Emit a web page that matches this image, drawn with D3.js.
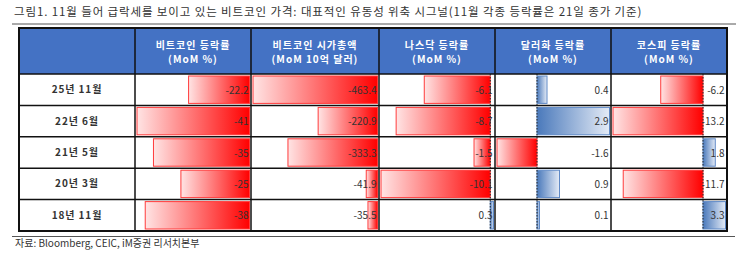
<!DOCTYPE html>
<html>
<head>
<meta charset="utf-8">
<script src="https://cdn.jsdelivr.net/npm/d3@7"></script>
<style>
  body { margin: 0; background: #fff; }
  text { font-family: "Noto Sans CJK KR", "Noto Sans", sans-serif; }
</style>
</head>
<body>
<script>
var width = 745, height = 257;

var titleText = "그림1.  11월 들어 급락세를 보이고 있는 비트코인 가격: 대표적인 유동성 위축 시그널(11월 각종 등락률은 21일 종가 기준)";
var sourceText = "자료: Bloomberg, CEIC, iM증권 리서치본부";

var periods = ["25년 11월", "22년 6월", "21년 5월", "20년 3월", "18년 11월"];
var headers = [
  ["비트코인 등락률", "(MoM %)"],
  ["비트코인 시가총액", "(MoM 10억 달러)"],
  ["나스닥 등락률", "(MoM %)"],
  ["달러화 등락률", "(MoM %)"],
  ["코스피 등락률", "(MoM %)"]
];
var btcChange = [-22.2, -41, -35, -25, -38];
var btcMcap = [-463.4, -220.9, -333.3, -41.9, -35.5];
var nasdaq = [-6.1, -8.7, -1.5, -10.1, 0.3];
var dollar = [0.4, 2.9, -1.6, 0.9, 0.1];
var kospi = [-6.2, -13.2, 1.8, -11.7, 3.3];

var series = [btcChange, btcMcap, nasdaq, dollar, kospi];

// table geometry
var colEdges = [19, 135, 251, 379, 495, 611, 727];
var headTop = 28, headBottom = 74, tableBottom = 231;

var svg = d3.select("body").append("svg")
    .attr("width", width)
    .attr("height", height);

var defs = svg.append("defs");
var red = defs.append("linearGradient").attr("id", "gRed");
red.append("stop").attr("offset", "0%").attr("stop-color", "#ffe4e4");
red.append("stop").attr("offset", "100%").attr("stop-color", "#ff0000");
var blue = defs.append("linearGradient").attr("id", "gBlue");
blue.append("stop").attr("offset", "0%").attr("stop-color", "#4a79bb");
blue.append("stop").attr("offset", "100%").attr("stop-color", "#e4ebf6");

// title
svg.append("text")
    .attr("x", 14).attr("y", 16)
    .attr("font-size", 11.5)
    .attr("fill", "#333")
    .attr("letter-spacing", 0.6)
    .attr("textLength", 628)
    .attr("lengthAdjust", "spacing")
    .text(titleText);
svg.append("line")
    .attr("x1", 12).attr("x2", 736).attr("y1", 24).attr("y2", 24)
    .attr("stroke", "#555").attr("stroke-width", 1);

// row scale
var y = d3.scaleBand().domain(periods).range([headBottom, tableBottom]);

// header band
svg.append("rect")
    .attr("x", colEdges[0]).attr("y", headTop)
    .attr("width", colEdges[6] - colEdges[0]).attr("height", headBottom - headTop)
    .attr("fill", "#4472c4");

headers.forEach(function (h, i) {
  var cx = (colEdges[i + 1] + colEdges[i + 2]) / 2;
  h.forEach(function (line, j) {
    svg.append("text")
        .attr("x", cx).attr("y", 49 + j * 13.5)
        .attr("text-anchor", "middle")
        .attr("font-size", 10)
        .attr("font-weight", "bold")
        .attr("letter-spacing", 1)
        .attr("fill", "#fff")
        .text(line);
  });
});

// row labels
svg.selectAll("text.period").data(periods).enter().append("text")
    .attr("class", "period")
    .attr("x", (colEdges[0] + colEdges[1]) / 2)
    .attr("y", function (d) { return y(d) + y.bandwidth() / 2 + 3.5; })
    .attr("text-anchor", "middle")
    .attr("font-size", 10)
    .attr("font-weight", "bold")
    .attr("letter-spacing", 0.9)
    .attr("fill", "#333")
    .text(function (d) { return d; });

// data bars
series.forEach(function (vals, i) {
  var left = colEdges[i + 1], right = colEdges[i + 2];
  var x = d3.scaleLinear()
      .domain([Math.min(0, d3.min(vals)), Math.max(0, d3.max(vals))])
      .range([left + 2, right - 1.5]);
  var g = svg.append("g");

  g.selectAll("rect").data(vals).enter().append("rect")
      .attr("x", function (d) { return x(Math.min(0, d)); })
      .attr("y", function (d, k) { return y(periods[k]) + 2; })
      .attr("width", function (d) { return Math.abs(x(d) - x(0)); })
      .attr("height", y.bandwidth() - 4)
      .attr("fill", function (d) { return d < 0 ? "url(#gRed)" : "url(#gBlue)"; })
      .attr("stroke", function (d) { return d < 0 ? "#ff3b3b" : "#5f89c6"; })
      .attr("stroke-width", 1);

  if (d3.min(vals) < 0 && d3.max(vals) > 0) {
    g.append("line")
        .attr("x1", x(0)).attr("x2", x(0))
        .attr("y1", headBottom).attr("y2", tableBottom)
        .attr("stroke", "#222").attr("stroke-width", 1)
        .attr("stroke-dasharray", "1.5,1.5");
  }

  g.selectAll("text").data(vals).enter().append("text")
      .attr("x", right - 2.5)
      .attr("y", function (d, k) { return y(periods[k]) + y.bandwidth() / 2 + 4; })
      .attr("text-anchor", "end")
      .attr("font-family", "DejaVu Sans, sans-serif")
      .attr("font-size", 10)
      .attr("fill", "#333")
      .text(function (d) { return d; });
});

// grid lines
var grid = svg.append("g").attr("stroke", "#111").attr("stroke-width", 1.5);
colEdges.forEach(function (cx) {
  grid.append("line").attr("x1", cx).attr("x2", cx)
      .attr("y1", headTop).attr("y2", tableBottom);
});
[headTop, headBottom].concat(periods.map(function (p) { return y(p) + y.bandwidth(); }))
  .forEach(function (ly) {
    grid.append("line").attr("x1", colEdges[0]).attr("x2", colEdges[6])
        .attr("y1", ly).attr("y2", ly);
  });
svg.append("rect")
    .attr("x", colEdges[0]).attr("y", headTop)
    .attr("width", colEdges[6] - colEdges[0]).attr("height", tableBottom - headTop)
    .attr("fill", "none").attr("stroke", "#111").attr("stroke-width", 2);

// source
svg.append("line")
    .attr("x1", 12).attr("x2", 735).attr("y1", 236.5).attr("y2", 236.5)
    .attr("stroke", "#555").attr("stroke-width", 1);
svg.append("text")
    .attr("x", 15).attr("y", 247)
    .attr("font-size", 10)
    .attr("fill", "#333")
    .text(sourceText);
</script>
</body>
</html>
